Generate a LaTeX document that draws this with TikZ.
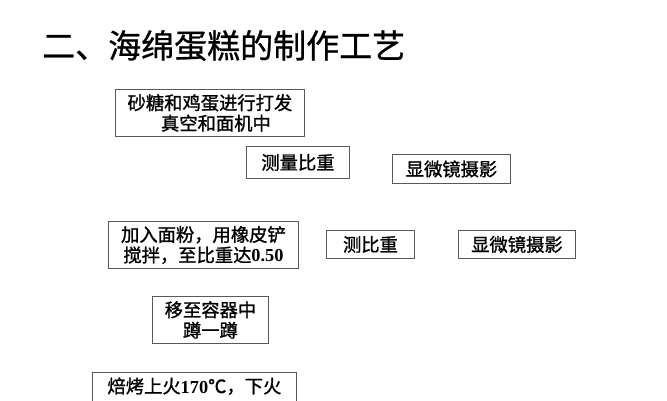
\documentclass[tikz,border=0pt]{standalone}
\usepackage{fontspec}
\setmainfont{Liberation Serif}
\newfontfamily\cjk{Noto Sans CJK SC}[FakeBold=1.2]
\newfontfamily\cjktitle{Noto Sans CJK SC}[FakeBold=0.8]
\begin{document}
\begin{tikzpicture}[x=1pt,y=-1pt]
\useasboundingbox (0,0) rectangle (667,400);
\clip (0,0) rectangle (667,400);
\tikzset{
  box/.style={draw=black!65, line width=0.9pt, fill=white, inner sep=0pt,
    anchor=north west, align=center, font=\cjk\fontsize{18.3}{20.5}\selectfont}
}
\node[anchor=base west, inner sep=0pt, font=\cjktitle\fontsize{33}{36}\selectfont] (title) at (42,58) {二、海绵蛋糕的制作工艺};

\node[box, minimum width=189pt, minimum height=47pt] (b1) at (115,89)
  {砂糖和鸡蛋进行打发\\\hspace*{12pt}真空和面机中};
\node[box, minimum width=103pt, minimum height=32pt] (b2) at (246,146) {测量比重};
\node[box, minimum width=118pt, minimum height=29pt] (b3) at (392,154) {显微镜摄影};

\node[box, minimum width=190pt, minimum height=47pt] (b4) at (108,221)
  {加入面粉，用橡皮铲\\搅拌，至比重达{\rmfamily\bfseries 0.50}};
\node[box, minimum width=88pt, minimum height=28pt] (b5) at (326,230) {测比重};
\node[box, minimum width=117pt, minimum height=28pt] (b6) at (458,230) {显微镜摄影};

\node[box, minimum width=116pt, minimum height=47pt] (b7) at (152,296)
  {移至容器中\\蹲一蹲};

\node[box, minimum width=204pt, minimum height=47pt] (b8) at (92,372) {};
\node[anchor=base, inner sep=0pt, font=\cjk\fontsize{18.3}{20.5}\selectfont] (b8t)
  at ([yshift=-21pt]b8.north) {焙烤上火{\rmfamily\bfseries 170}℃，下火};
\end{tikzpicture}
\end{document}
